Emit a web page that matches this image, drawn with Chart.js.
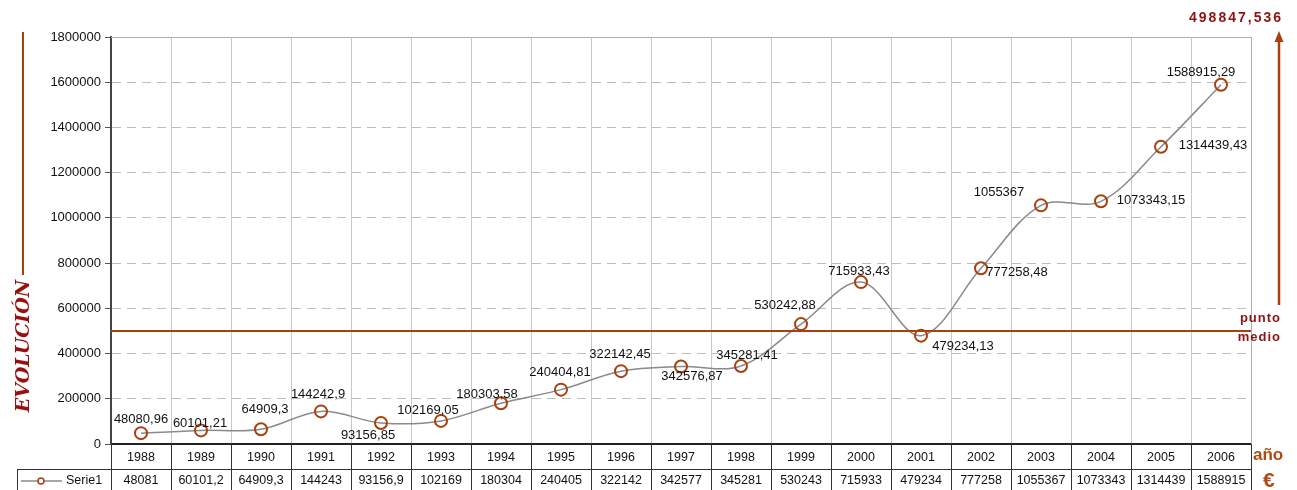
<!DOCTYPE html>
<html>
<head>
<meta charset="utf-8">
<script src="https://cdn.jsdelivr.net/npm/chart.js@4.4.0/dist/chart.umd.min.js"></script>
<style>
  html, body { margin: 0; padding: 0; background: #fff; }
  #wrap { width: 1297px; height: 490px; }
</style>
</head>
<body>
<div id="wrap"><canvas id="evolucion" width="1297" height="490"></canvas></div>
<script>
// valores
const years = ['1988', '1989', '1990', '1991', '1992', '1993', '1994', '1995', '1996', '1997',
    '1998', '1999', '2000', '2001', '2002', '2003', '2004', '2005', '2006'];
const values = [48080.96, 60101.21, 64909.3, 144242.9, 93156.85, 102169.05, 180303.58, 240404.81,
    322142.45, 342576.87, 345281.41, 530242.88, 715933.43, 479234.13, 777258.48, 1055367,
    1073343.15, 1314439.43, 1588915.29];
const pointLabels = ['48080,96', '60101,21', '64909,3', '144242,9', '93156,85', '102169,05',
    '180303,58', '240404,81', '322142,45', '342576,87', '345281,41', '530242,88', '715933,43',
    '479234,13', '777258,48', '1055367', '1073343,15', '1314439,43', '1588915,29'];
const tableLabels = ['48081', '60101,2', '64909,3', '144243', '93156,9', '102169', '180304',
    '240405', '322142', '342577', '345281', '530243', '715933', '479234', '777258', '1055367',
    '1073343', '1314439', '1588915'];
// where each value label sits relative to its point
const labelShift = [[0, -14], [-1, -7], [4, -20], [-3, -17], [-13, 12], [-13, -10], [-14, -9],
    [-1, -17], [-1, -17], [11, 10], [6, -11], [-16, -19], [-2, -11], [42, 11], [36, 4],
    [-42, -13], [50, -1], [52, -1], [-20, -12]];
const seriesName = 'Serie1';
const meanValue = 498847.536;
const meanText = '498847,536';
const yMax = 1800000;
const yStep = 200000;

const BROWN = '#A9400E';
const DARKRED = '#8E1212';
const FONT = '"Liberation Sans", Arial, sans-serif';

const extras = {
    id: 'extras',
    afterDraw(chart) {
        const ctx = chart.ctx;
        const area = chart.chartArea;
        const xs = chart.scales.x;
        const ys = chart.scales.y;
        const colW = (area.right - area.left) / years.length;
        ctx.save();

        // plot frame top / right
        ctx.strokeStyle = '#b0b0b0';
        ctx.lineWidth = 1;
        ctx.beginPath();
        ctx.moveTo(area.left, area.top + 0.5);
        ctx.lineTo(area.right, area.top + 0.5);
        ctx.moveTo(area.right + 0.5, area.top);
        ctx.lineTo(area.right + 0.5, area.bottom);
        ctx.stroke();

        // mean line
        const ym = Math.round(ys.getPixelForValue(meanValue));
        ctx.strokeStyle = BROWN;
        ctx.lineWidth = 2;
        ctx.beginPath();
        ctx.moveTo(area.left, ym);
        ctx.lineTo(area.right, ym);
        ctx.stroke();

        // arrow on right
        ctx.beginPath();
        ctx.lineWidth = 2.5;
        ctx.moveTo(1279, 305);
        ctx.lineTo(1279, 40);
        ctx.stroke();
        ctx.fillStyle = BROWN;
        ctx.beginPath();
        ctx.moveTo(1279, 31);
        ctx.lineTo(1274.5, 42);
        ctx.lineTo(1283.5, 42);
        ctx.closePath();
        ctx.fill();

        // left line + title
        ctx.beginPath();
        ctx.lineWidth = 2;
        ctx.moveTo(23, 32);
        ctx.lineTo(23, 275);
        ctx.stroke();
        ctx.save();
        ctx.translate(24, 346);
        ctx.rotate(-Math.PI / 2);
        ctx.fillStyle = '#9A1010';
        ctx.font = 'italic bold 19px "DejaVu Serif", serif';
        ctx.textAlign = 'center';
        ctx.textBaseline = 'middle';
        ctx.fillText('EVOLUCIÓN', 0, 0);
        ctx.restore();

        // right texts
        ctx.fillStyle = DARKRED;
        ctx.textAlign = 'right';
        ctx.textBaseline = 'middle';
        ctx.letterSpacing = '2px';
        ctx.font = 'bold 14px ' + FONT;
        ctx.fillText(meanText, 1283, 18);
        ctx.letterSpacing = '1px';
        ctx.font = 'bold 13px ' + FONT;
        ctx.fillText('punto', 1281, 318);
        ctx.fillText('medio', 1281, 337);
        ctx.letterSpacing = '0px';
        ctx.fillStyle = '#B04A14';
        ctx.textAlign = 'left';
        ctx.font = 'bold 17px ' + FONT;
        ctx.fillText('año', 1253, 455);
        ctx.font = 'bold 21px ' + FONT;
        ctx.fillText('€', 1263, 481);

        // data table
        const rowTop = area.bottom;
        const rowMid = 469;
        const rowEnd = 490;
        ctx.strokeStyle = '#333';
        ctx.lineWidth = 1;
        ctx.beginPath();
        for (let i = 0; i <= years.length; i++) {
            const x = Math.round(area.left + i * colW) + 0.5;
            ctx.moveTo(x, rowTop);
            ctx.lineTo(x, rowEnd);
        }
        ctx.moveTo(17, rowMid + 0.5);
        ctx.lineTo(area.right, rowMid + 0.5);
        ctx.moveTo(17.5, rowMid);
        ctx.lineTo(17.5, rowEnd);
        ctx.stroke();

        ctx.fillStyle = '#111';
        ctx.textAlign = 'center';
        ctx.textBaseline = 'middle';
        ctx.font = '12.5px ' + FONT;
        tableLabels.forEach((t, i) => {
            ctx.fillText(t, xs.getPixelForValue(i), 481);
        });

        // legend key
        ctx.strokeStyle = '#8a8a8a';
        ctx.lineWidth = 1.5;
        ctx.beginPath();
        ctx.moveTo(21, 481);
        ctx.lineTo(62, 481);
        ctx.stroke();
        ctx.strokeStyle = BROWN;
        ctx.fillStyle = '#fff';
        ctx.lineWidth = 1.5;
        ctx.beginPath();
        ctx.arc(41, 481, 3, 0, Math.PI * 2);
        ctx.fill();
        ctx.stroke();
        ctx.fillStyle = '#111';
        ctx.textAlign = 'left';
        ctx.fillText(seriesName, 66, 481);

        // value labels
        ctx.font = '13px ' + FONT;
        ctx.textAlign = 'center';
        const meta = chart.getDatasetMeta(0);
        meta.data.forEach((pt, i) => {
            ctx.fillText(pointLabels[i], pt.x + labelShift[i][0], pt.y + labelShift[i][1]);
        });

        ctx.restore();
    }
};

new Chart(document.getElementById('evolucion'), {
    type: 'line',
    data: {
        labels: years,
        datasets: [{
            label: seriesName,
            data: values,
            borderColor: '#8a8a8a',
            borderWidth: 1.5,
            tension: 0.35,
            pointRadius: 6,
            pointHoverRadius: 6,
            pointBorderColor: BROWN,
            pointBorderWidth: 2,
            pointBackgroundColor: 'rgba(0,0,0,0)'
        }]
    },
    options: {
        responsive: false,
        animation: false,
        layout: { padding: { top: 37, right: 46, left: 0, bottom: 0 } },
        plugins: { legend: { display: false }, tooltip: { enabled: false } },
        scales: {
            x: {
                offset: true,
                grid: { offset: true, color: '#c8c8c8', drawTicks: false },
                border: { color: '#222', width: 2 },
                ticks: { color: '#111', font: { family: FONT, size: 12.5 }, padding: 6 },
                afterFit: s => { s.height = 46; }
            },
            y: {
                min: 0,
                max: yMax,
                ticks: {
                    stepSize: yStep,
                    color: '#111',
                    font: { family: FONT, size: 13 },
                    padding: 4,
                    callback: v => String(v)
                },
                grid: { color: '#bdbdbd', tickLength: 6, tickColor: '#555' },
                border: { color: '#444', width: 2, dash: [9, 6] },
                afterFit: s => { s.width = 111; }
            }
        }
    },
    plugins: [extras]
});
</script>
</body>
</html>
